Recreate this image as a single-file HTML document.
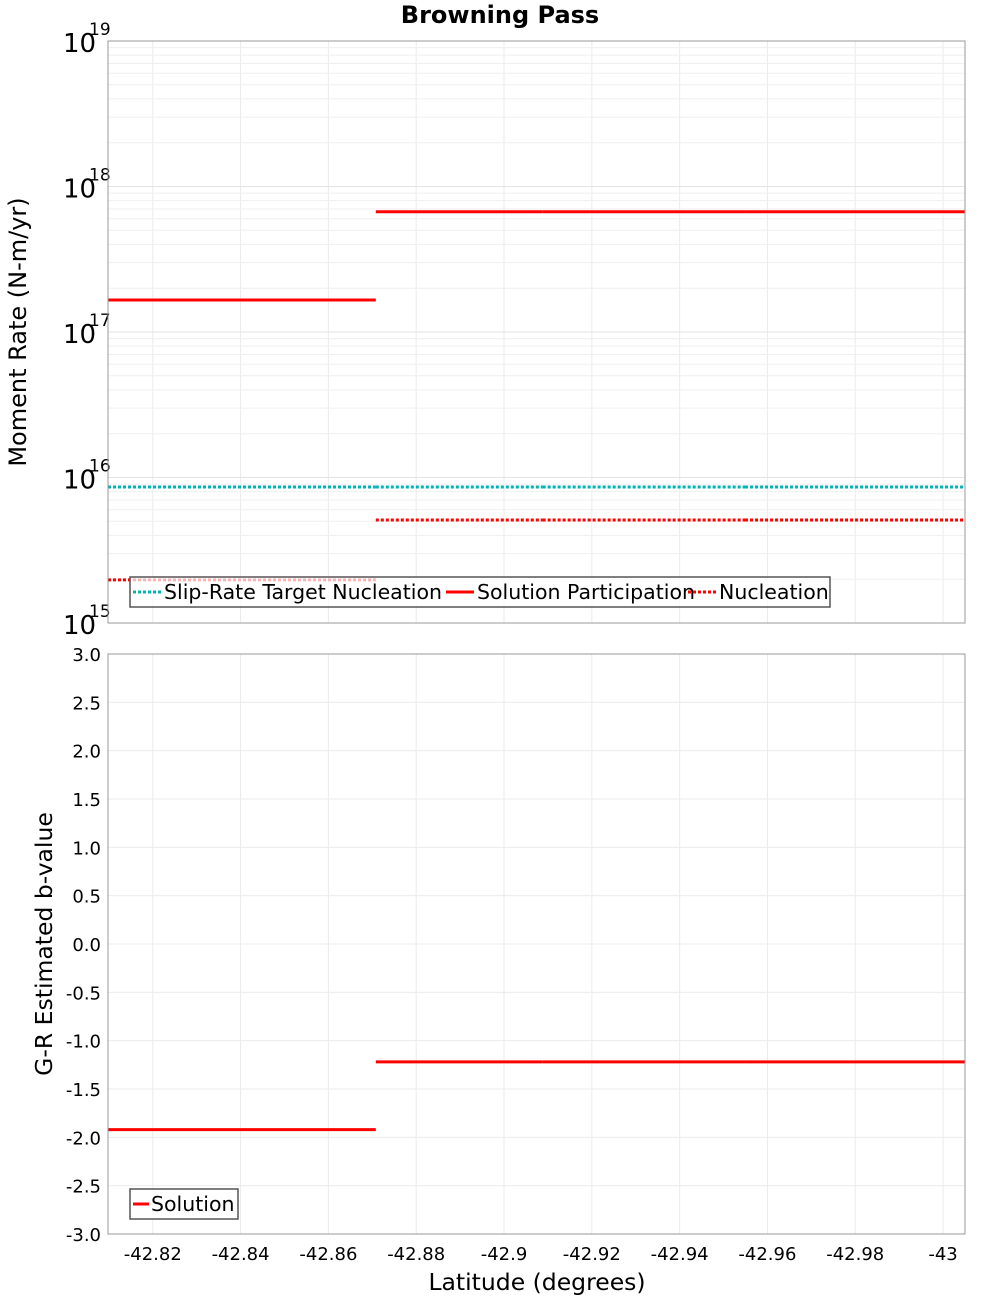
<!DOCTYPE html>
<html><head><meta charset="utf-8"><style>
body{margin:0;background:#fff;font-family:"Liberation Sans","DejaVu Sans",sans-serif}
svg text{font-family:"DejaVu Sans","Liberation Sans",sans-serif}
</style></head><body>
<svg id="c" width="1000" height="1300" xmlns="http://www.w3.org/2000/svg"></svg>
<script>
const bounds=[-42.8098,-42.8708,-42.9088,-42.9549,-43.005];
const partVals=[1.66e17,6.7e17,6.7e17,6.7e17];
const targetVals=[8.6e15,8.6e15,8.6e15,8.6e15];
const nuclVals=[1.98e15,5.1e15,5.1e15,5.1e15];
const bVals=[-1.92,-1.22,-1.22,-1.22];
const xTicks=[-42.82,-42.84,-42.86,-42.88,-42.9,-42.92,-42.94,-42.96,-42.98,-43];
const xTickLabels=["-42.82","-42.84","-42.86","-42.88","-42.9","-42.92","-42.94","-42.96","-42.98","-43"];
const bTicks=[3,2.5,2,1.5,1,0.5,0,-0.5,-1,-1.5,-2,-2.5,-3];
const logTicks=[15,16,17,18,19];

const NS="http://www.w3.org/2000/svg",svg=document.getElementById('c');
function el(t,a,txt){const e=document.createElementNS(NS,t);for(const k in a)e.setAttribute(k,a[k]);if(txt!=null)e.textContent=txt;svg.appendChild(e);return e;}
const L=108,R=965,T1=41,B1=623,T2=654,B2=1234;
const xs=v=>L+(v-bounds[0])/(bounds[bounds.length-1]-bounds[0])*(R-L);
const ys1=v=>B1-(Math.log10(v)-15)/4*(B1-T1);
const ys2=v=>B2-(v+3)/6*(B2-T2);
let e;
e=el('text',{x:500,y:23,'text-anchor':'middle','font-size':24,'font-weight':'bold'},'Browning Pass');

[[T1,B1],[T2,B2]].forEach(([t,b],i)=>{e=el('rect',{x:L,y:t,width:R-L,height:b-t,fill:'#fff',stroke:'none'});
});
xTicks.forEach(v=>{[[T1,B1],[T2,B2]].forEach(([t,b])=>{e=el('line',{x1:xs(v),x2:xs(v),y1:t,y2:b,stroke:'#ebebeb'});
});});
for(let d=15;d<19;d++){for(let m=1;m<10;m++){const y=ys1(m*Math.pow(10,d));
e=el('line',{x1:L,x2:R,y1:y,y2:y,stroke:m==1?'#e3e3e3':'#efefef'});
}}
bTicks.forEach(v=>{e=el('line',{x1:L,x2:R,y1:ys2(v),y2:ys2(v),stroke:'#ebebeb'});
});
logTicks.forEach(p=>{const y=ys1(Math.pow(10,p));
e=el('text',{x:63,y:y+11,'font-size':26},'10');
e=el('text',{x:89,y:y-6,'font-size':17},String(p));});
bTicks.forEach(v=>{e=el('text',{x:101,y:ys2(v)+7,'font-size':18,'text-anchor':'end'},v.toFixed(1));
});
xTicks.forEach((v,i)=>{e=el('text',{x:xs(v),y:1260,'font-size':18,'text-anchor':'middle'},xTickLabels[i]);
});
e=el('text',{x:0,y:0,'font-size':24,'text-anchor':'middle',transform:'translate(26,332) rotate(-90)'},'Moment Rate (N-m/yr)');

e=el('text',{x:0,y:0,'font-size':23.5,'text-anchor':'middle',transform:'translate(52,944) rotate(-90)'},'G-R Estimated b-value');

e=el('text',{x:537,y:1290,'font-size':23.5,'text-anchor':'middle'},'Latitude (degrees)');

function seg(vals,ys,color,dash,name){for(let i=0;i<vals.length;i++){
 const a={x1:xs(bounds[i]),x2:xs(bounds[i+1]),y1:ys(vals[i]),y2:ys(vals[i]),stroke:color,'stroke-width':3};
 if(dash)a['stroke-dasharray']='3,2';e=el('line',a);}}
seg(targetVals,ys1,'#00b4b4',true,'slip-rate-target-segment');
seg(partVals,ys1,'#ff0000',false,'participation-segment');
seg(nuclVals,ys1,'#ff0000',true,'nucleation-segment');
seg(bVals,ys2,'#ff0000',false,'b-value-segment');
[[T1,B1],[T2,B2]].forEach(([t,b])=>{e=el('rect',{x:L,y:t,width:R-L,height:b-t,fill:'none',stroke:'#999'});
});
e=el('rect',{x:130,y:577,width:700,height:30,fill:'rgba(255,255,255,0.7)',stroke:'#555','stroke-width':1.5});

const leg=[[133,'#00b4b4',true,'Slip-Rate Target Nucleation'],[446,'#ff0000',false,'Solution Participation'],[688,'#ff0000',true,'Nucleation']];
leg.forEach(([x,c,d,t])=>{const a={x1:x,x2:x+28,y1:592,y2:592,stroke:c,'stroke-width':3};if(d)a['stroke-dasharray']='3,2';
e=el('line',a);
e=el('text',{x:x+31,y:599,'font-size':20.5},t);});
e=el('rect',{x:130,y:1189,width:108,height:30,fill:'#fff',stroke:'#555','stroke-width':1.5});

e=el('line',{x1:133,x2:149,y1:1204,y2:1204,stroke:'#ff0000','stroke-width':3});

e=el('text',{x:151,y:1211,'font-size':20.5},'Solution');

</script>
</body></html>
